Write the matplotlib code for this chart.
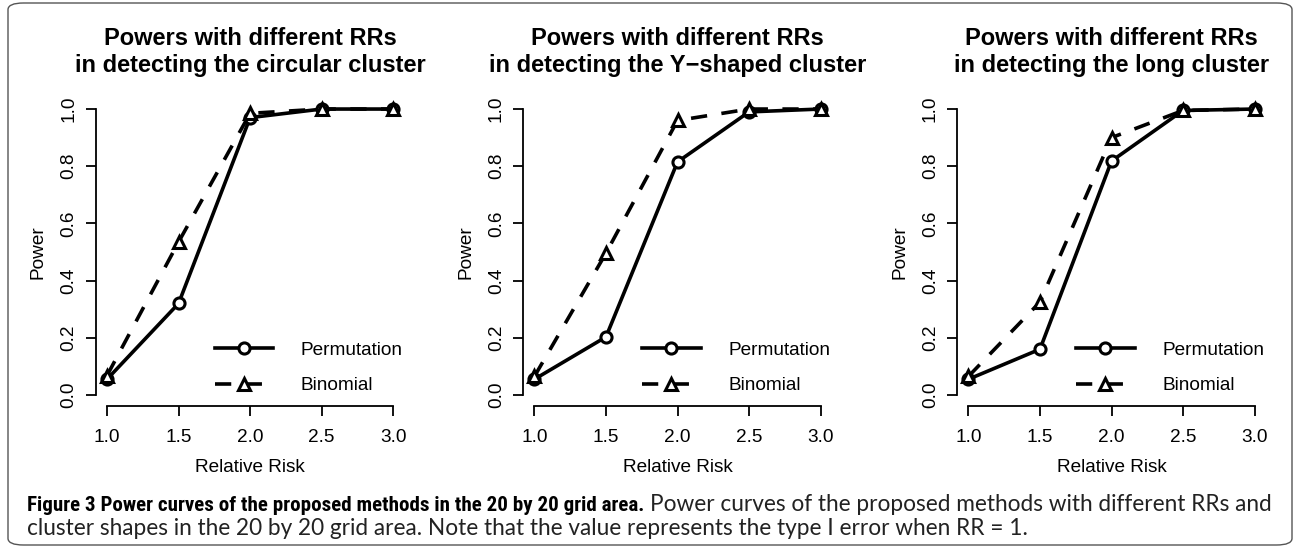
import matplotlib
matplotlib.use("Agg")
import matplotlib.pyplot as plt
from matplotlib.patches import FancyBboxPatch

plt.rcParams['font.family'] = ['Liberation Sans', 'DejaVu Sans']

# relative risk levels (equally spaced categories on the x axis)
rr_labels = ['1.0', '1.5', '2.0', '2.5', '3.0']
rr_pos = [1, 2, 3, 4, 5]

titles = ['Powers with different RRs\nin detecting the circular cluster',
          'Powers with different RRs\nin detecting the Y\u2212shaped cluster',
          'Powers with different RRs\nin detecting the long cluster']

circ_perm = [0.055, 0.32, 0.97, 1.0, 1.0]
circ_binom = [0.068, 0.535, 0.985, 1.0, 1.0]
yshape_perm = [0.055, 0.203, 0.815, 0.99, 1.0]
yshape_binom = [0.065, 0.496, 0.96, 1.0, 1.0]
long_perm = [0.055, 0.16, 0.818, 0.995, 1.0]
long_binom = [0.065, 0.325, 0.90, 0.995, 1.0]

perm_series = [circ_perm, yshape_perm, long_perm]
binom_series = [circ_binom, yshape_binom, long_binom]

fig = plt.figure(figsize=(12.95, 5.52), dpi=100)
W, H = 1295.0, 552.0
fs = 13.7

lefts = [95.6, 523.0, 957.0]
for i in range(3):
    ax = fig.add_axes([lefts[i] / W, 1 - 406.4 / H, 309 / W, 308.8 / H])
    ax.plot(rr_pos, perm_series[i], color='black', lw=2.6, ls='-',
            marker='o', ms=8, mfc='white', mec='black', mew=2.2,
            label='Permutation')
    ax.plot(rr_pos, binom_series[i], color='black', lw=2.6, ls=(0, (4.5, 4)),
            marker='^', ms=9, mfc='white', mec='black', mew=2.2,
            label='Binomial')
    ax.set_xlim(0.84, 5.16)
    ax.set_ylim(-0.04, 1.04)
    ax.set_xticks(rr_pos)
    ax.set_xticklabels(rr_labels)
    ax.set_yticks([0.0, 0.2, 0.4, 0.6, 0.8, 1.0])
    ax.set_yticklabels(['0.0', '0.2', '0.4', '0.6', '0.8', '1.0'],
                       rotation=90, va='center')
    for s in ['top', 'right']:
        ax.spines[s].set_visible(False)
    ax.spines['left'].set_bounds(0, 1)
    ax.spines['bottom'].set_bounds(1, 5)
    ax.spines['left'].set_linewidth(1.3)
    ax.spines['bottom'].set_linewidth(1.3)
    ax.tick_params(length=7, width=1.3, labelsize=fs, pad=6)
    ax.tick_params(axis='x', pad=9.6)
    ax.set_xlabel('Relative Risk', fontsize=fs, labelpad=9)
    ax.set_ylabel('Power', fontsize=fs, labelpad=10)
    ax.set_title(titles[i], fontsize=17, fontweight='bold', pad=18.5,
                 linespacing=1.24)
    ax.legend(loc='lower right', bbox_to_anchor=(1.0, 0.033), frameon=False,
              fontsize=fs, handlelength=3.05, labelspacing=0.95,
              handletextpad=1.45, borderaxespad=0.0, borderpad=0.1)

# outer rounded frame
frame = FancyBboxPatch((8 / W, 7 / H), 1284 / W, 542 / H,
                       boxstyle='round,pad=0,rounding_size=0.012',
                       transform=fig.transFigure, fill=False,
                       edgecolor='#555555', lw=1.0)
fig.patches.append(frame)

# caption, sized to the widths seen in the reference
bold_font = ['Roboto Condensed', 'Liberation Sans Narrow', 'Roboto']
cap_font = ['Lato', 'Liberation Sans']
bold_txt = 'Figure 3 Power curves of the proposed methods in the 20 by 20 grid area.'
line1_txt = 'Power curves of the proposed methods with different RRs and'
line2_txt = 'cluster shapes in the 20 by 20 grid area. Note that the value represents the type I error when RR = 1.'

fig.canvas.draw()
r = fig.canvas.get_renderer()


def fitted(txt, weight, family, target):
    t = fig.text(0, 0, txt, fontsize=13, fontweight=weight, family=family)
    w = t.get_window_extent(r).width
    t.remove()
    return 13 * target / w


size_bold = min(fitted(bold_txt, 'bold', bold_font, 615), 15.5)
size_norm = fitted(line2_txt, 'normal', cap_font, 995)

bold_part = fig.text(27 / W, 1 - 511 / H, bold_txt, fontsize=size_bold,
                     fontweight='bold', family=bold_font, va='baseline')
bb = bold_part.get_window_extent(r)
fig.text((bb.x1 + 6) / W, 1 - 511 / H, line1_txt, fontsize=size_norm,
         family=cap_font, va='baseline', color='#222222')
fig.text(27 / W, 1 - 535 / H, line2_txt, fontsize=size_norm,
         family=cap_font, va='baseline', color='#222222')

fig.savefig('out.png', dpi=100)
